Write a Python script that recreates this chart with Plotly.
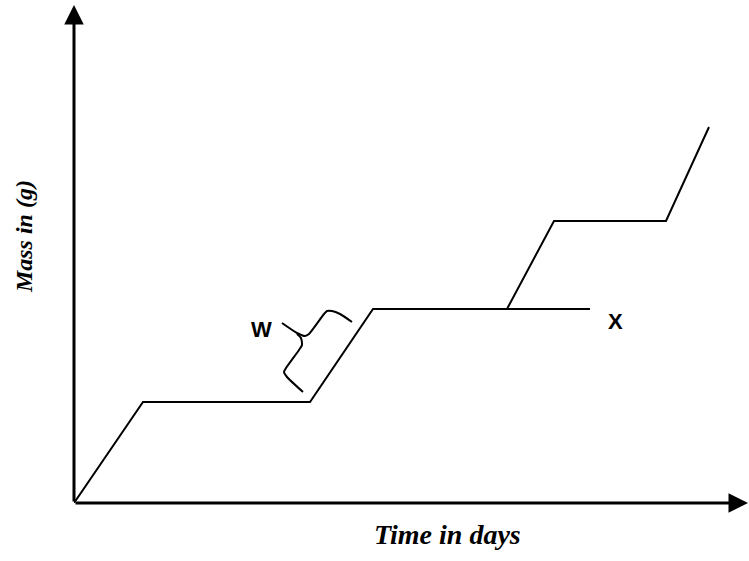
import plotly.graph_objects as go

# Main growth curve (time in days, mass in g) - arbitrary units
time_days = [0, 6.9, 23.6, 29.9, 43.3, 48.0, 59.2, 63.5]
mass_g = [0, 10.1, 10.1, 19.4, 19.4, 28.2, 28.2, 37.6]

# Branch that stays flat (labelled X)
branch_time = [43.3, 51.6]
branch_mass = [19.4, 19.4]

# Curly brace marking the growth phase W
brace_upper_x = [27.8, 26.6, 25.8, 25.3, 25.0, 23.5, 23.1, 22.3, 20.8]
brace_upper_y = [18.1, 18.9, 19.2, 19.2, 18.9, 16.9, 16.7, 17.0, 18.0]
brace_lower_x = [22.3, 22.7, 22.8, 22.5, 21.2, 21.0, 21.3, 22.9]
brace_lower_y = [16.9, 16.5, 15.8, 15.3, 13.5, 13.1, 12.6, 11.1]

labels = ["W", "X"]
label_x = [18.75, 54.15]
label_y = [17.4, 18.15]

x_title = "Time in days"
y_title = "Mass in (g)"

X_MAX = 67.5
Y_MAX = 49.8

fig = go.Figure()
line_style = dict(color="black", width=2)
fig.add_trace(go.Scatter(x=time_days, y=mass_g, mode="lines", line=line_style, hoverinfo="skip"))
fig.add_trace(go.Scatter(x=branch_time, y=branch_mass, mode="lines", line=line_style, hoverinfo="skip"))
fig.add_trace(go.Scatter(x=brace_upper_x, y=brace_upper_y, mode="lines",
                         line=dict(color="black", width=2, shape="spline", smoothing=0.6), hoverinfo="skip"))
fig.add_trace(go.Scatter(x=brace_lower_x, y=brace_lower_y, mode="lines",
                         line=dict(color="black", width=2, shape="spline", smoothing=0.6), hoverinfo="skip"))

# Axes with arrows (paper coordinates, tail offset in pixels)
fig.add_annotation(x=0, y=1, xref="paper", yref="paper", ax=0, ay=498,
                   showarrow=True, arrowhead=2, arrowsize=1.3, arrowwidth=3,
                   arrowcolor="black", standoff=0, text="")
fig.add_annotation(x=1, y=0, xref="paper", yref="paper", ax=-675, ay=0,
                   showarrow=True, arrowhead=2, arrowsize=1.3, arrowwidth=3,
                   arrowcolor="black", standoff=0, text="")

for t, lx, ly in zip(labels, label_x, label_y):
    fig.add_annotation(x=lx, y=ly, text="<b>" + t + "</b>", showarrow=False,
                       font=dict(family="Liberation Sans", size=22, color="black"),
                       xanchor="center", yanchor="middle")

fig.add_annotation(x=0.553, y=-0.064, xref="paper", yref="paper",
                   text="<b><i>" + x_title + "</i></b>", showarrow=False,
                   font=dict(family="Liberation Serif", size=28, color="black"),
                   xanchor="center", yanchor="middle")
fig.add_annotation(x=-0.074, y=0.534, xref="paper", yref="paper",
                   text="<b><i>" + y_title + "</i></b>", showarrow=False,
                   textangle=-90,
                   font=dict(family="Liberation Serif", size=24, color="black"),
                   xanchor="center", yanchor="middle")

fig.update_layout(
    width=749, height=561,
    margin=dict(l=74, r=0, t=5, b=58, autoexpand=False),
    paper_bgcolor="white", plot_bgcolor="white",
    showlegend=False,
    xaxis=dict(range=[0, X_MAX], visible=False, fixedrange=True),
    yaxis=dict(range=[0, Y_MAX], visible=False, fixedrange=True),
)

fig.write_html("out.html", config={"displayModeBar": False},
               post_script="document.body.style.margin='0';")
